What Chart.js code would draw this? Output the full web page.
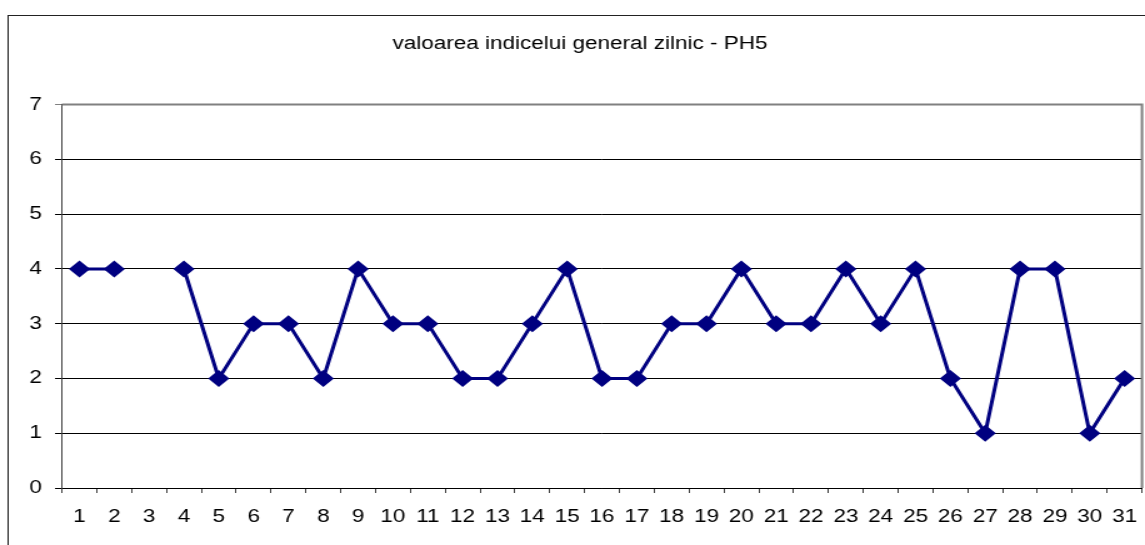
<!DOCTYPE html>
<html>
<head>
<meta charset="utf-8">
<script src="https://cdn.jsdelivr.net/npm/chart.js@4/dist/chart.umd.min.js"></script>
<style>
  html, body { margin: 0; padding: 0; background: #fff; overflow: hidden; }
  /* the original picture is stretched sideways, so the canvas is too */
  #chart { display: block; transform: scaleX(1.25); transform-origin: 0 0; }
</style>
</head>
<body>
<canvas id="chart" width="916" height="545"></canvas>
<script>
const chartTitle = 'valoarea indicelui general zilnic - PH5';
const days = ['1', '2', '3', '4', '5', '6', '7', '8', '9', '10', '11', '12', '13', '14', '15', '16',
  '17', '18', '19', '20', '21', '22', '23', '24', '25', '26', '27', '28', '29', '30', '31'];
const indexValues = [4, 4, null, 4, 2, 3, 3, 2, 4, 3, 3, 2, 2, 3, 4, 2, 2, 3, 3, 4, 3, 3, 4, 3, 4, 2, 1, 4, 4, 1, 2];
const yTicks = [0, 1, 2, 3, 4, 5, 6, 7];

const fontFamily = 'Arial, "Liberation Sans", sans-serif';

const framePlugin = {
  id: 'frame',
  beforeDraw(chart) {
    const ctx = chart.ctx;
    ctx.save();
    ctx.fillStyle = '#fff';
    ctx.fillRect(0, 0, chart.width, chart.height);
    ctx.strokeStyle = '#222';
    ctx.lineWidth = 1;
    ctx.strokeRect(6.5, 15.5, chart.width + 20, chart.height + 20);
    ctx.restore();
  },
  beforeDatasetsDraw(chart) {
    const ctx = chart.ctx;
    const area = chart.chartArea;
    ctx.save();
    ctx.strokeStyle = '#808080';
    ctx.lineWidth = 2;
    ctx.beginPath();
    ctx.moveTo(area.left, area.top);
    ctx.lineTo(area.right, area.top);
    ctx.lineTo(area.right, area.bottom);
    ctx.stroke();
    ctx.restore();
  }
};

const chart = new Chart(document.getElementById('chart'), {
  type: 'line',
  data: {
    labels: days,
    datasets: [{
      data: indexValues,
      borderColor: '#000080',
      backgroundColor: '#000080',
      borderWidth: 3,
      pointStyle: 'rectRot',
      pointRadius: 8.5,
      pointHoverRadius: 8.5,
      pointBorderWidth: 0,
      tension: 0,
      spanGaps: false
    }]
  },
  options: {
    responsive: false,
    animation: false,
    devicePixelRatio: 1,
    layout: {
      autoPadding: false,
      padding: { left: 14.4, right: 2.4, top: 0, bottom: 0 }
    },
    plugins: {
      legend: { display: false },
      tooltip: { enabled: false },
      title: {
        display: true,
        text: chartTitle,
        color: '#000',
        font: { family: fontFamily, size: 18, weight: 'normal' },
        padding: { top: 33, bottom: 50 }
      }
    },
    scales: {
      x: {
        offset: true,
        grid: {
          offset: true,
          drawOnChartArea: false,
          drawTicks: true,
          tickLength: 5,
          color: '#404040'
        },
        border: { color: '#000', width: 1 },
        ticks: {
          color: '#000',
          font: { family: fontFamily, size: 18 },
          padding: 13,
          maxRotation: 0,
          autoSkip: false
        },
        afterFit(scale) {
          scale.height = 57;
          // labels sit inside the category slots, no side room needed
          scale.paddingLeft = 0;
          scale.paddingRight = 0;
        }
      },
      y: {
        min: 0,
        max: 7,
        afterBuildTicks(scale) { scale.ticks = yTicks.map(v => ({ value: v })); },
        grid: {
          color: ctx => (ctx.tick && ctx.tick.value === 7 ? '#808080' : '#000'),
          lineWidth: 1,
          drawTicks: true,
          tickLength: 5.6
        },
        border: { color: '#404040', width: 1 },
        ticks: {
          color: '#000',
          font: { family: fontFamily, size: 18 },
          padding: 10.4
        },
        afterFit(scale) { scale.width = 35.2; }
      }
    }
  },
  plugins: [framePlugin]
});
</script>
</body>
</html>
